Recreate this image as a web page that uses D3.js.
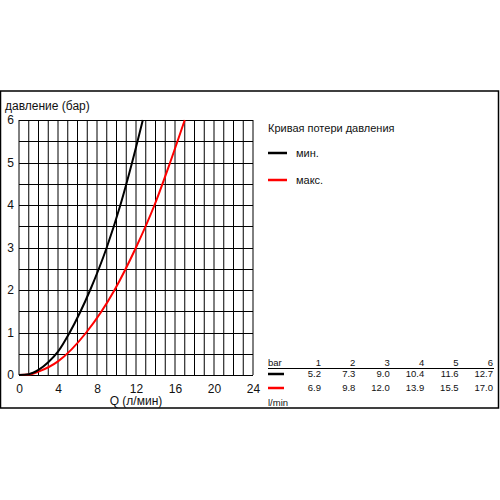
<!DOCTYPE html>
<html>
<head>
<meta charset="utf-8">
<script src="https://cdn.jsdelivr.net/npm/d3@7"></script>
<style>
  body { margin: 0; background: #fff; }
  text { font-family: "Liberation Sans", Arial, sans-serif; fill: #111; }
</style>
</head>
<body>
<svg id="chart" width="500" height="500"></svg>
<script>
// pressure steps (bar) and flow at each step (l/min), from the table
var pressureSteps = [1, 2, 3, 4, 5, 6]
var flowMin = [5.2, 7.3, 9.0, 10.4, 11.6, 12.7]
var flowMax = [6.9, 9.8, 12.0, 13.9, 15.5, 17.0]
// low part of the curves
var minLowQ = [0, 1, 2, 3, 4]
var minLowP = [0, 0.02, 0.12, 0.3, 0.55]
var maxLowQ = [0, 1, 2, 4]
var maxLowP = [0, 0.01, 0.08, 0.32]
var xTicks = [0, 4, 8, 12, 16, 20, 24]
var yTicks = [0, 1, 2, 3, 4, 5, 6]

var svg = d3.select("#chart")

// outer frame
svg.append("rect")
  .attr("x", 0.5).attr("y", 91)
  .attr("width", 498).attr("height", 317)
  .attr("fill", "none").attr("stroke", "#000").attr("stroke-width", 1.5)

var x = d3.scaleLinear().domain([0, 24]).range([19, 253])
var y = d3.scaleLinear().domain([0, 6]).range([375, 120])

var grid = svg.append("g")
grid.selectAll("line.v")
  .data(d3.range(0, 25))
  .enter().append("line")
  .attr("class", "v")
  .attr("x1", function(d) { return x(d) }).attr("x2", function(d) { return x(d) })
  .attr("y1", y(0)).attr("y2", y(6))
  .attr("stroke", "#000").attr("stroke-width", 1)
grid.selectAll("line.h")
  .data(d3.range(0, 6.01, 0.5))
  .enter().append("line")
  .attr("class", "h")
  .attr("x1", x(0)).attr("x2", x(24))
  .attr("y1", function(d) { return Math.round(y(d)) + 0.5 })
  .attr("y2", function(d) { return Math.round(y(d)) + 0.5 })
  .attr("stroke", "#000").attr("stroke-width", 1)

var xAxis = svg.append("g")
  .attr("transform", "translate(0," + y(0) + ")")
  .call(d3.axisBottom(x).tickValues(xTicks).tickFormat(d3.format("d")).tickSize(0).tickPadding(9))
var yAxis = svg.append("g")
  .attr("transform", "translate(" + x(0) + ",0)")
  .call(d3.axisLeft(y).tickValues(yTicks).tickFormat(d3.format("d")).tickSize(0).tickPadding(5))
svg.selectAll(".domain").remove()
svg.selectAll(".tick text")
  .attr("font-size", 12)
  .attr("font-family", "Liberation Sans, Arial, sans-serif")
  .attr("fill", "#111")

svg.append("text")
  .attr("x", 5).attr("y", 110)
  .attr("font-size", 12)
  .text("давление (бар)")
svg.append("text")
  .attr("x", 136).attr("y", 405)
  .attr("text-anchor", "middle")
  .attr("font-size", 12)
  .text("Q (л/мин)")

// curves
var minPts = minLowQ.map(function(q, i) { return [q, minLowP[i]] })
  .concat(flowMin.map(function(q, i) { return [q, pressureSteps[i]] }))
var maxPts = maxLowQ.map(function(q, i) { return [q, maxLowP[i]] })
  .concat(flowMax.map(function(q, i) { return [q, pressureSteps[i]] }))

var line = d3.line()
  .x(function(d) { return x(d[0]) })
  .y(function(d) { return y(d[1]) })
  .curve(d3.curveMonotoneX)

svg.append("path").datum(maxPts)
  .attr("d", line).attr("fill", "none")
  .attr("stroke", "#f00").attr("stroke-width", 2)
svg.append("path").datum(minPts)
  .attr("d", line).attr("fill", "none")
  .attr("stroke", "#000").attr("stroke-width", 2)

// legend
svg.append("text")
  .attr("x", 268).attr("y", 132)
  .attr("font-size", 11)
  .text("Кривая потери давления")
var legend = [["мин.", "#000", 153], ["макс.", "#f00", 180]]
legend.forEach(function(l) {
  svg.append("line")
    .attr("x1", 268).attr("x2", 287)
    .attr("y1", l[2]).attr("y2", l[2])
    .attr("stroke", l[1]).attr("stroke-width", 2.5)
  svg.append("text")
    .attr("x", 296).attr("y", l[2] + 4)
    .attr("font-size", 11)
    .text(l[0])
})

// table
var col = d3.scalePoint().domain(pressureSteps).range([321, 493])
svg.append("text").attr("x", 268).attr("y", 366).attr("font-size", 9.5).text("bar")
svg.append("text").attr("x", 268).attr("y", 406).attr("font-size", 9.5).text("l/min")
svg.append("line")
  .attr("x1", 268).attr("x2", 494).attr("y1", 368.5).attr("y2", 368.5)
  .attr("stroke", "#000").attr("stroke-width", 1)

function row(vals, yy, fmt) {
  svg.append("g").selectAll("text")
    .data(vals).enter().append("text")
    .attr("x", function(d, i) { return col(pressureSteps[i]) })
    .attr("y", yy)
    .attr("text-anchor", "end")
    .attr("font-size", 9.5)
    .text(fmt)
}
row(pressureSteps, 366, function(d) { return d })
row(flowMin, 377, function(d) { return d.toFixed(1) })
row(flowMax, 391, function(d) { return d.toFixed(1) })

svg.append("line").attr("x1", 268).attr("x2", 284).attr("y1", 374).attr("y2", 374)
  .attr("stroke", "#000").attr("stroke-width", 2.5)
svg.append("line").attr("x1", 268).attr("x2", 284).attr("y1", 388).attr("y2", 388)
  .attr("stroke", "#f00").attr("stroke-width", 2.5)
</script>
</body>
</html>
